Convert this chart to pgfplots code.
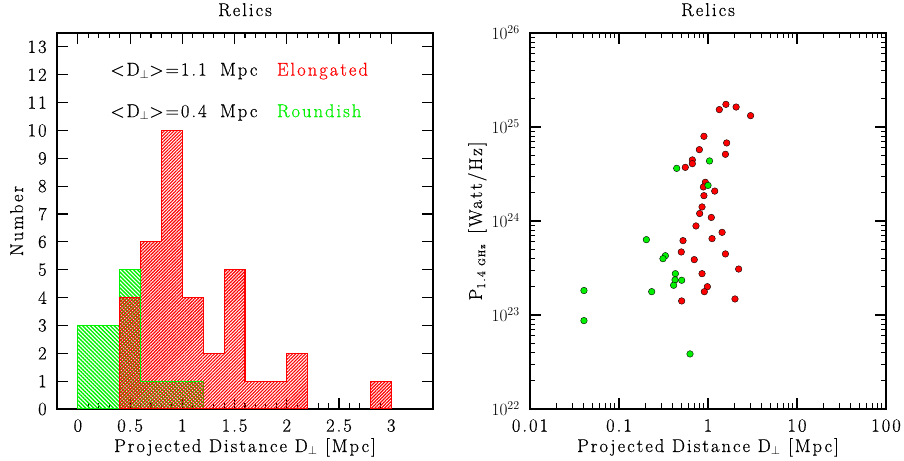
\documentclass[border=0pt]{standalone}
\usepackage{fontspec}
\setmainfont{Latin Modern Roman}[LetterSpace=11, FakeBold=0.6]
\usepackage{pgfplots}
\pgfplotsset{compat=1.18}
\usetikzlibrary{patterns.meta}

\definecolor{elong}{rgb}{1,0,0}
\definecolor{round}{rgb}{0,0.94,0}
\newcommand{\relicfont}{\fontsize{18.5bp}{22bp}\selectfont}

\pgfplotsset{
  relic/.style={
    scale only axis,
    font=\relicfont,
    axis line style={line width=1.6bp},
    tick style={line width=1.1bp, black},
    major tick length=11bp,
    minor tick length=5.5bp,
    tick align=inside,
    xtick pos=both, ytick pos=both,
    xticklabel pos=lower, yticklabel pos=left,
    /pgf/number format/assume math mode=true,
    title style={at={(axis description cs:0.5,1)}, anchor=base, yshift=11bp},
    every axis x label/.style={font=\relicfont, at={(axis description cs:0.5,0)}, anchor=base, yshift=-43bp},
    xticklabel style={yshift=-4bp},
    yticklabel style={xshift=-4bp},
  },
  elonghatch/.style={draw=elong, line width=1.2bp,
    pattern={Lines[angle=45,distance=2.3bp,line width=1.15bp]}, pattern color=elong},
  roundhatch/.style={draw=round, line width=1.2bp,
    pattern={Lines[angle=-45,distance=2.8bp,line width=1.4bp]}, pattern color=round},
}

\begin{document}
\relicfont
\begin{tikzpicture}[font=\relicfont]
\path[use as bounding box] (0,0) rectangle (904bp,461bp);

% ---------------- histogram of projected distances ----------------
\begin{axis}[relic,
  at={(57bp,52bp)}, anchor=south west,
  width=376bp, height=376bp,
  xmin=-0.2, xmax=3.4, ymin=0, ymax=13.5,
  xtick={0,0.5,1,1.5,2,2.5,3},
  xticklabels={0,0.5,1,1.5,2,2.5,3},
  minor x tick num=4,
  ytick={0,1,...,13},
  title={Relics},
  xlabel={Projected Distance D$_\perp$ [Mpc]},
  ylabel={Number},
  every axis y label/.style={font=\relicfont, at={(axis description cs:-0.0904,0.5)}, rotate=90, anchor=base},
]
% Roundish
\addplot[const plot, roundhatch]
  coordinates {(0,0) (0,3) (0.2,3) (0.4,5) (0.6,1) (0.8,1) (1.0,1) (1.2,0)} \closedcycle;
% Elongated
\addplot[const plot, elonghatch]
  coordinates {(0.4,0) (0.4,4) (0.6,6) (0.8,10) (1.0,4) (1.2,2) (1.4,5) (1.6,1) (1.8,1) (2.0,2) (2.2,0)} \closedcycle;
\addplot[const plot, elonghatch]
  coordinates {(2.8,0) (2.8,1) (3.0,0)} \closedcycle;
% outline of the roundish sample on top of the red hatching
\addplot[const plot, draw=round, line width=1.2bp]
  coordinates {(0.4,5) (0.6,1) (0.8,1) (1.0,1) (1.2,1)};

\node[anchor=base west, inner sep=0pt] at (axis cs:0.31,11.97) {<D$_\perp$>=1.1};
\node[anchor=base west, inner sep=0pt] at (axis cs:1.36,11.97) {Mpc};
\node[anchor=base west, inner sep=0pt, text=elong] at (axis cs:1.904,11.97) {Elongated};
\node[anchor=base west, inner sep=0pt] at (axis cs:0.31,10.48) {<D$_\perp$>=0.4};
\node[anchor=base west, inner sep=0pt] at (axis cs:1.36,10.48) {Mpc};
\node[anchor=base west, inner sep=0pt, text=round] at (axis cs:1.904,10.48) {Roundish};
\end{axis}

% ---------------- radio power versus distance ----------------
\begin{axis}[relic,
  at={(530bp,52bp)}, anchor=south west,
  width=356bp, height=376bp,
  xmode=log, ymode=log,
  xmin=0.01, xmax=100, ymin=1e22, ymax=1e26,
  xtick={0.01,0.1,1,10,100},
  xticklabels={0.01,0.1,1,10,100},
  ytick={1e22,1e23,1e24,1e25,1e26},
  yticklabels={$10^{22}$,$10^{23}$,$10^{24}$,$10^{25}$,$10^{26}$},
  title={Relics},
  xlabel={Projected Distance D$_\perp$ [Mpc]},
  ylabel={P\raisebox{-0.4ex}{\fontsize{12bp}{14bp}\selectfont 1.4 \fontsize{9.5bp}{11bp}\selectfont GHz}\, [Watt/Hz]},
  every axis y label/.style={font=\relicfont, at={(axis description cs:-0.135,0.5)}, rotate=90, anchor=base},
]
\addplot[only marks, mark=*, mark size=3.3bp, mark options={fill=elong, draw=none}]
  table {
  x     y
  1.34  1.53e25
  1.59  1.74e25
  2.07  1.63e25
  3.01  1.32e25
  0.90  7.96e24
  1.62  6.76e24
  0.80  5.74e24
  1.57  5.12e24
  0.667 4.46e24
  0.667 4.07e24
  0.556 3.72e24
  0.933 2.58e24
  0.887 2.30e24
  1.19  2.08e24
  0.90  1.86e24
  0.857 1.41e24
  0.806 1.20e24
  1.09  1.09e24
  0.733 8.85e23
  1.44  7.57e23
  0.524 6.18e23
  1.11  6.49e23
  0.501 4.68e23
  1.57  4.46e23
  0.701 3.88e23
  2.21  3.08e23
  0.857 2.75e23
  0.984 2.00e23
  0.91  1.77e23
  0.506 1.41e23
  2.01  1.48e23
  };
\addplot[only marks, mark=*, mark size=3.3bp, mark options={fill=round, draw=none}]
  table {
  x      y
  0.445  3.63e24
  1.04   4.35e24
  1.00   2.39e24
  0.203  6.33e23
  0.332  4.27e23
  0.312  3.97e23
  0.430  2.75e23
  0.426  2.36e23
  0.506  2.34e23
  0.411  2.07e23
  0.233  1.77e23
  0.0404 1.82e23
  0.0404 8.71e22
  0.628  3.85e22
  };
\end{axis}
\end{tikzpicture}
\end{document}
